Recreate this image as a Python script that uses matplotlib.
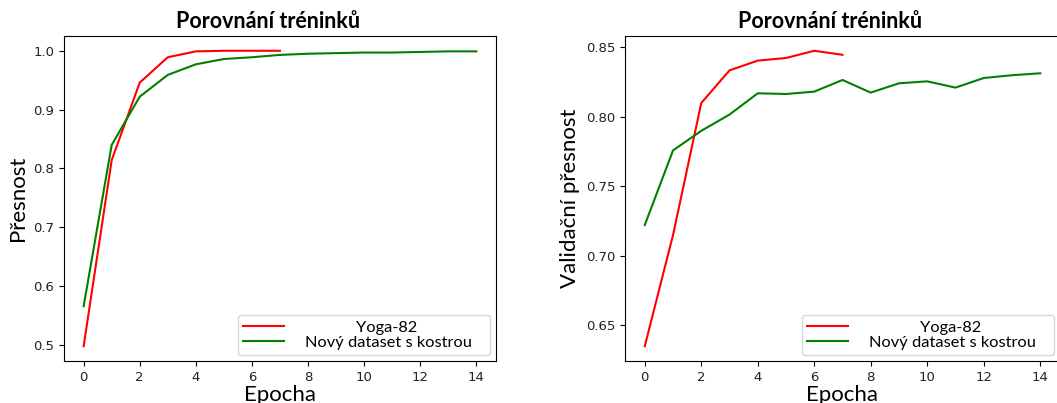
import matplotlib
matplotlib.use("Agg")
import matplotlib.pyplot as plt

# training accuracy per epoch
epochs_yoga = list(range(8))
epochs_new = list(range(15))
acc_yoga = [0.498, 0.814, 0.946, 0.989, 0.999, 1.0, 1.0, 1.0]
acc_new = [0.566, 0.840, 0.922, 0.959, 0.977, 0.986, 0.989, 0.993,
           0.995, 0.996, 0.997, 0.997, 0.998, 0.999, 0.999]

# validation accuracy per epoch
val_yoga = [0.635, 0.715, 0.810, 0.8335, 0.8405, 0.8424, 0.8476, 0.8447]
val_new = [0.7222, 0.7759, 0.790, 0.8017, 0.817, 0.8165, 0.8182, 0.8266,
           0.8175, 0.8242, 0.8256, 0.8211, 0.828, 0.830, 0.8314]

labels = ["            Yoga-82", "Nový dataset s kostrou   "]
xticks = [0, 2, 4, 6, 8, 10, 12, 14]

W, H = 1057, 403
fig = plt.figure(figsize=(W / 100, H / 100), dpi=100)

ax1 = fig.add_axes([64 / W, 42 / H, 432 / W, 325 / H])
ax2 = fig.add_axes([625 / W, 42 / H, 435 / W, 325 / H])

txt_font = "Lato"

for ax, yoga, new, ylabel in [(ax1, acc_yoga, acc_new, "Přesnost"),
                              (ax2, val_yoga, val_new, "Validační přesnost")]:
    ax.plot(epochs_yoga, yoga, color="red", lw=1.5, label=labels[0])
    ax.plot(epochs_new, new, color="green", lw=1.5, label=labels[1])
    ax.set_xticks(xticks)
    ax.set_title("Porovnání tréninků", fontsize=15.5, fontweight="bold",
                 family=txt_font, pad=6, x=0.472)
    ax.set_xlabel("Epocha", fontsize=16, family=txt_font, labelpad=1)
    ax.set_ylabel(ylabel, fontsize=16, family=txt_font, labelpad=4)
    ax.tick_params(labelsize=9.5, labelcolor="#222222")
    leg = ax.legend(loc="lower right", prop={"family": txt_font, "size": 11.8},
                    handlelength=2.45, handletextpad=1.3, borderaxespad=0.35,
                    labelspacing=0.0, borderpad=0.35)

fig.savefig("out.png", dpi=100)
